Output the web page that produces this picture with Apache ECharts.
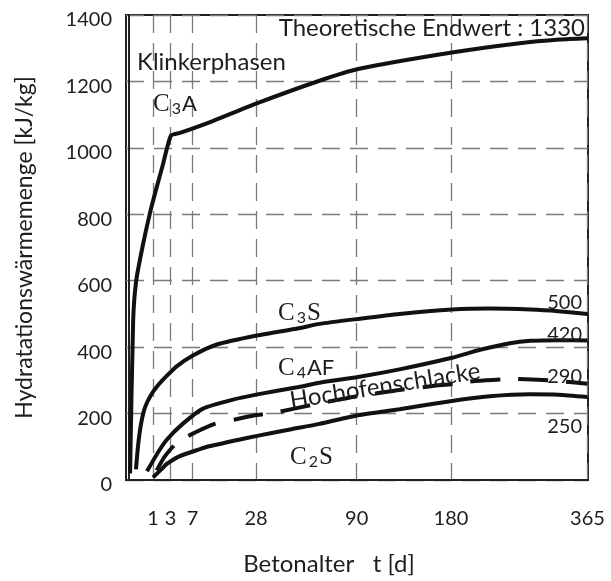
<!DOCTYPE html>
<html>
<head>
<meta charset="utf-8">
<script src="https://cdn.jsdelivr.net/npm/echarts@6/dist/echarts.min.js"></script>
<style>
  html, body { margin: 0; padding: 0; background: #fff; }
  #chart { width: 611px; height: 581px; }
</style>
</head>
<body>
<div id="chart"></div>
<script>
// Concrete age in days shown on the x-axis (axis is square-root scaled)
const tickDays = [1, 3, 7, 28, 90, 180, 365];

// Heat of hydration [kJ/kg] per clinker phase, sampled at the given ages [d]
const c3aDays = [0.002, 0.03, 0.09, 0.33, 0.77, 1.3, 2, 3.06, 4.5, 12, 28, 63, 92, 181, 265, 322, 365];
const c3aHeat = [20, 480, 600, 706, 805, 878, 950, 1037, 1045, 1080, 1133, 1202, 1238, 1287, 1315, 1326, 1330];

const c3sDays = [0.085, 0.14, 0.25, 0.44, 0.84, 1.46, 2.5, 4, 7.1, 13.4, 28.4, 50, 63, 91, 127, 181, 226, 280, 320, 365];
const c3sHeat = [32, 101, 168, 218, 256, 285, 314, 343, 375, 408, 435, 457, 470, 485, 500, 513, 516, 513, 508, 500];

const c4afDays = [0.56, 1.5, 2.5, 5, 9.5, 18.8, 28, 50, 63, 91, 127, 181, 214, 252, 280, 320, 365];
const c4afHeat = [26, 85, 122, 169, 215, 242, 257, 280, 293, 310, 333, 368, 392, 412, 419, 421, 420];

const slagDays = [1.33, 2.25, 4.3, 12.5, 19.5, 27, 37, 59, 74, 87, 105, 127, 160, 182, 208, 256, 290, 320, 365];
const slagHeat = [29, 72, 117, 168, 182, 194, 203, 227, 240, 250, 260, 271, 283, 289, 298, 304, 302, 298, 290];

const c2sDays = [1, 2, 2.5, 4.5, 8.75, 10.6, 21.4, 28, 45, 63, 91, 127, 181, 226, 279, 320, 365];
const c2sHeat = [8, 37, 49, 72, 93, 100, 122, 132, 152, 169, 195, 213, 238, 252, 258, 257, 250];

// End values written at the right-hand end of each curve
const endLabels = ['500', '420', '290', '250'];

const FONT = 'Lato, "Open Sans", sans-serif';
const SERIF = '"Liberation Serif", "DejaVu Serif", serif';
const INK = '#1e1e1e';

const toAxis = d => Math.sqrt(d);
const pairs = (days, vals) => days.map((d, i) => [toAxis(d), vals[i]]);

const chart = echarts.init(document.getElementById('chart'), null, { renderer: 'canvas' });

function curve(name, days, vals, dashed) {
  return {
    name: name,
    type: 'line',
    data: pairs(days, vals),
    showSymbol: false,
    smooth: 0.2,
    clip: true,
    lineStyle: {
      color: '#111',
      width: 4,
      type: dashed ? [30, 18] : 'solid',
      cap: 'butt'
    },
    z: 5
  };
}

const gridDash = { type: [18, 10], color: '#7a7a7a', width: 1.3 };

chart.setOption({
  animation: false,
  backgroundColor: '#fff',
  grid: {
    left: 126, right: 23, top: 15, bottom: 87,
    show: true, borderColor: '#222', borderWidth: 2
  },
  xAxis: {
    type: 'value',
    min: -0.125,
    max: 19.125,
    axisLine: { show: true, lineStyle: { color: '#222', width: 2 } },
    axisTick: { show: false, customValues: tickDays.map(toAxis) },
    axisLabel: {
      customValues: tickDays.map(toAxis),
      formatter: v => String(Math.round(v * v)),
      fontFamily: FONT, fontSize: 20, color: INK, margin: 29
    },
    splitLine: { show: true, lineStyle: gridDash },
    name: 'Betonalter   t [d]',
    nameLocation: 'middle',
    nameGap: 72,
    nameTextStyle: { fontFamily: FONT, fontSize: 24, color: INK, padding: [0, 56, 0, 0] }
  },
  yAxis: {
    type: 'value',
    min: 0, max: 1400, interval: 200,
    axisLine: { show: true, lineStyle: { color: '#222', width: 2 } },
    axisTick: { show: false },
    axisLabel: {
      margin: 14,
      formatter: v => '{n|' + v + '}',
      rich: { n: { fontFamily: FONT, fontSize: 20, color: INK, padding: [10, 0, 0, 0] } }
    },
    splitLine: { show: true, lineStyle: gridDash },
    name: 'Hydratationswärmemenge [kJ/kg]',
    nameLocation: 'middle',
    nameGap: 90,
    nameTextStyle: { fontFamily: FONT, fontSize: 23, color: INK }
  },
  series: [
    curve('C3A', c3aDays, c3aHeat, false),
    curve('C3S', c3sDays, c3sHeat, false),
    curve('C4AF', c4afDays, c4afHeat, false),
    curve('Hochofenschlacke', slagDays, slagHeat, true),
    curve('C2S', c2sDays, c2sHeat, false)
  ]
});

// Phase names with subscripted oxide counts
function phase(main, sub, rest, x, y) {
  return {
    type: 'text', x: x, y: y, z: 20,
    style: {
      text: '{c|' + main + '}{s|' + sub + '}{r|' + rest + '}',
      align: 'left', verticalAlign: 'middle',
      rich: {
        c: { fontFamily: SERIF, fontSize: 25, fill: INK },
        s: { fontFamily: FONT, fontSize: 16, fill: INK, padding: [10, 1, 0, 2] },
        r: { fontFamily: rest === 'S' ? SERIF : FONT, fontSize: rest === 'S' ? 25 : 22, fill: INK }
      }
    }
  };
}

const graphics = [
  { type: 'text', x: 585, y: 28, z: 20,
    style: { text: 'Theoretische Endwert : 1330', fontFamily: FONT, fontSize: 24, fill: INK, align: 'right', verticalAlign: 'middle' } },
  { type: 'text', x: 137, y: 62, z: 20,
    style: { text: 'Klinkerphasen', fontFamily: FONT, fontSize: 24, fill: INK, align: 'left', verticalAlign: 'middle' } },
  phase('C', '3', 'A', 153, 104),
  phase('C', '3', 'S', 278, 313),
  phase('C', '4', 'AF', 278, 368),
  phase('C', '2', 'S', 290, 457),
  { type: 'text', x: 290, y: 401, z: 20, rotation: 9 * Math.PI / 180,
    style: { text: 'Hochofenschlacke', fontFamily: FONT, fontSize: 24, fill: INK, align: 'left', verticalAlign: 'middle' } }
];

// End values beside each curve end
const endY = [303, 335, 377, 427];
endLabels.forEach((t, i) => {
  graphics.push({ type: 'text', x: 582, y: endY[i], z: 20,
    style: { text: t, fontFamily: FONT, fontSize: 20, fill: INK, align: 'right', verticalAlign: 'middle' } });
});

chart.setOption({ graphic: graphics });
</script>
</body>
</html>
